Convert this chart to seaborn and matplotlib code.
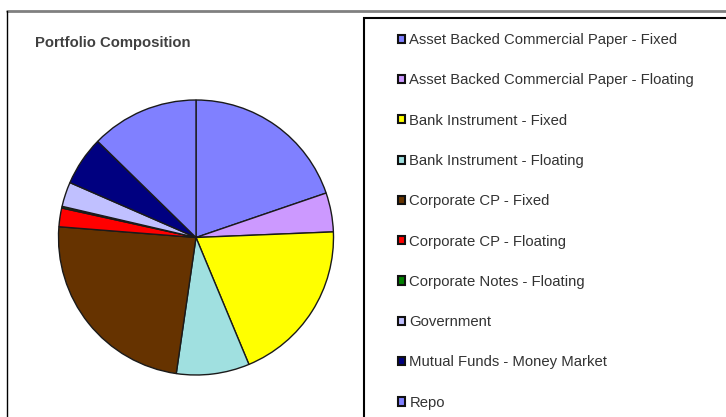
import matplotlib
matplotlib.use("Agg")
import matplotlib.pyplot as plt
from matplotlib.patches import Rectangle
from matplotlib.lines import Line2D
import seaborn as sns

categories = [
    "Asset Backed Commercial Paper - Fixed",
    "Asset Backed Commercial Paper - Floating",
    "Bank Instrument - Fixed",
    "Bank Instrument - Floating",
    "Corporate CP - Fixed",
    "Corporate CP - Floating",
    "Corporate Notes - Floating",
    "Government",
    "Mutual Funds - Money Market",
    "Repo",
]
values = [19.8, 4.6, 19.4, 8.6, 24.0, 2.2, 0.2, 2.9, 5.8, 12.7]
colors = ["#8080FF", "#CC99FF", "#FFFF00", "#A0E0E0", "#663300",
          "#FF0000", "#008000", "#C0C0FF", "#000080", "#8080FF"]
title = "Portfolio Composition"

sns.set_theme(style="white")
plt.rcParams["font.family"] = ["Liberation Sans", "DejaVu Sans"]

W, H = 726, 417
fig = plt.figure(figsize=(W / 100, H / 100), dpi=100)
fig.patch.set_facecolor("white")

# outer borders
fig.add_artist(Line2D([7 / W, 1], [1 - 11 / H, 1 - 11 / H], transform=fig.transFigure,
                      color="#808080", lw=2))
fig.add_artist(Line2D([7 / W, 7 / W], [1 - 11 / H, 0], transform=fig.transFigure,
                      color="black", lw=1))
# legend frame
fig.add_artist(Rectangle((364 / W, -0.05), 1, 1 - 18 / H + 0.05, transform=fig.transFigure,
                         facecolor="none", edgecolor="black", lw=1.5))

fig.text(35 / W, 1 - 43.5 / H, title, fontsize=10.7, fontweight="bold", color="#404040",
         va="center", ha="left")

cx, cy, r = 196, 237.5, 137.5
ax = fig.add_axes([(cx - r) / W, (H - cy - r) / H, 2 * r / W, 2 * r / H])
wedges, _ = ax.pie(values, colors=colors, startangle=90, counterclock=False,
                   wedgeprops=dict(edgecolor="#1a1a1a", linewidth=1.0))
ax.set_xlim(-1, 1)
ax.set_ylim(-1, 1)
ax.set_aspect("equal")
ax.axis("off")

fs = 10.7
leg = fig.legend(wedges, categories, loc="upper left",
                 bbox_to_anchor=(398 / W, 1 - 33 / H), bbox_transform=fig.transFigure,
                 frameon=False, fontsize=fs, labelcolor="#333333",
                 handlelength=0.47, handleheight=0.47, handletextpad=0.3,
                 labelspacing=1.77, borderpad=0, borderaxespad=0)
for h in leg.legend_handles:
    h.set_linewidth(1.5)
    h.set_edgecolor("#111111")

fig.savefig("out.png", dpi=100, facecolor="white")
